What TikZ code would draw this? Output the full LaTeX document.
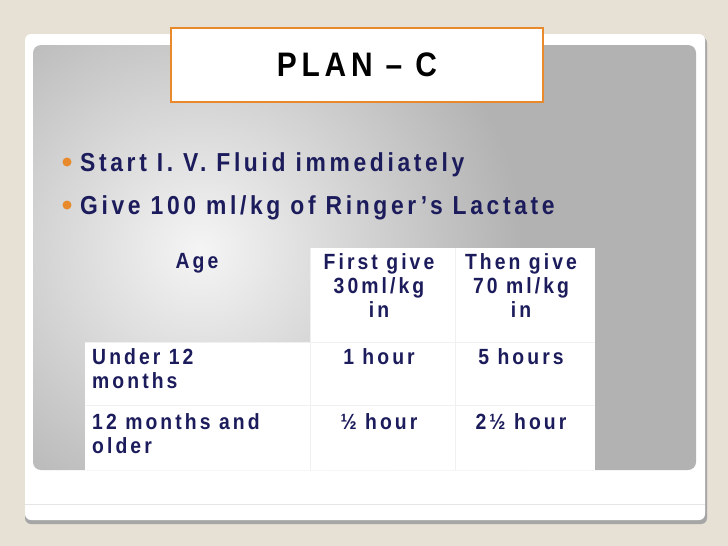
\documentclass[tikz,border=0pt]{standalone}
\usepackage{fontspec}
\setmainfont{Liberation Sans}
\newfontfamily\spacedfont[LetterSpace=14,FakeStretch=0.88]{Liberation Sans}
\definecolor{navy}{HTML}{1C1C5C}
\definecolor{orng}{HTML}{E8892B}
\definecolor{beige}{HTML}{E6E0D5}
\begin{document}
\begin{tikzpicture}[x=1pt,y=-1pt,
  txt/.style={font=\spacedfont\bfseries\fontsize{22}{24}\selectfont,text=navy,inner sep=0pt,align=center},
  bul/.style={font=\spacedfont\bfseries\fontsize{26}{30}\selectfont,text=navy,inner sep=0pt}]
\useasboundingbox (0,0) rectangle (728,546);
\fill[beige] (0,0) rectangle (728,546);
\fill[gray!70,rounded corners=6] (25,37) rectangle (707,524);
\fill[white,rounded corners=6] (25,34) rectangle (705,520);
\draw[gray!20] (25,504) -- (705,504);
\begin{scope}
\clip[rounded corners=8] (33,45) rectangle (696,470);
\shade[inner color=gray!8,outer color=gray!60] (-120,-60) rectangle (520,560);
\fill[gray!60] (520,-60) rectangle (700,560);
\shade[left color=gray!60,right color=gray!60,middle color=gray!60] (0,0) rectangle (0,0);
\end{scope}
\shade[left color=gray!60,right color=gray!60,opacity=0] (33,45) rectangle (696,470);
% title
\node[draw=orng,line width=2.5pt,fill=white,minimum width=372,minimum height=74,
  font=\spacedfont\bfseries\fontsize{34}{40}\selectfont,text=black] (title) at (357,65) {PLAN – C};
% bullets
\fill[orng] (67,162) circle (4.5);
\fill[orng] (67,205) circle (4.5);
\node[bul,anchor=west] (b1) at (80,165) {Start I. V. Fluid immediately};
\node[bul,anchor=west] (b2) at (80,208) {Give 100 ml/kg of Ringer’s Lactate};
% table
\fill[white] (310,248) rectangle (595,342);
\fill[white] (85,342) rectangle (595,470);
\draw[gray!12] (310,248) -- (310,470) (455,248) -- (455,470) (85,405) -- (595,405) (85,342)--(595,342);
\node[txt,anchor=north] (age) at (197,253) {Age};
\node[txt,anchor=north] (h2) at (379,253) {First give\\30ml/kg\\in};
\node[txt,anchor=north] (h3) at (521,253) {Then give\\70 ml/kg\\in};
\node[txt,anchor=north west,align=left] (r1) at (92,348) {Under 12\\months};
\node[txt,anchor=north] (r1b) at (379,348) {1 hour};
\node[txt,anchor=north] (r1c) at (521,348) {5 hours};
\node[txt,anchor=north west,align=left] (r2) at (92,413) {12 months and\\older};
\node[txt,anchor=north] (r2b) at (379,413) {½ hour};
\node[txt,anchor=north] (r2c) at (521,413) {2½ hour};
\end{tikzpicture}
\end{document}
